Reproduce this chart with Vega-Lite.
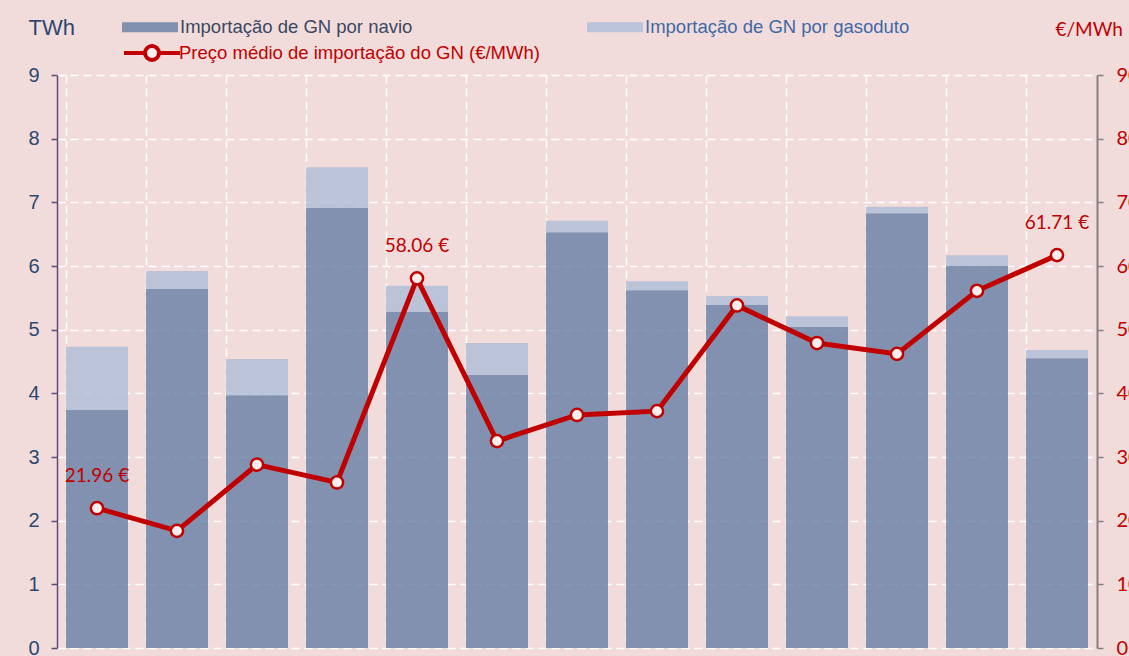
{
  "$schema": "https://vega.github.io/schema/vega-lite/v6.json",
  "width": 1040,
  "height": 573,
  "autosize": {"type": "none"},
  "padding": {"left": 57, "top": 75, "right": 32, "bottom": 8},
  "background": "#f2dcdb",
  "config": {"view": {"stroke": null}, "font": "Liberation Sans", "legend": {"padding": 0}},
  "datasets": {
    "imp": [
      {"mes": "M01", "tipo": "Importação de GN por navio", "ordem": 1, "valor": 3.74},
      {"mes": "M01", "tipo": "Importação de GN por gasoduto", "ordem": 2, "valor": 0.99},
      {"mes": "M02", "tipo": "Importação de GN por navio", "ordem": 1, "valor": 5.64},
      {"mes": "M02", "tipo": "Importação de GN por gasoduto", "ordem": 2, "valor": 0.28},
      {"mes": "M03", "tipo": "Importação de GN por navio", "ordem": 1, "valor": 3.97},
      {"mes": "M03", "tipo": "Importação de GN por gasoduto", "ordem": 2, "valor": 0.57},
      {"mes": "M04", "tipo": "Importação de GN por navio", "ordem": 1, "valor": 6.91},
      {"mes": "M04", "tipo": "Importação de GN por gasoduto", "ordem": 2, "valor": 0.64},
      {"mes": "M05", "tipo": "Importação de GN por navio", "ordem": 1, "valor": 5.28},
      {"mes": "M05", "tipo": "Importação de GN por gasoduto", "ordem": 2, "valor": 0.41},
      {"mes": "M06", "tipo": "Importação de GN por navio", "ordem": 1, "valor": 4.29},
      {"mes": "M06", "tipo": "Importação de GN por gasoduto", "ordem": 2, "valor": 0.50},
      {"mes": "M07", "tipo": "Importação de GN por navio", "ordem": 1, "valor": 6.53},
      {"mes": "M07", "tipo": "Importação de GN por gasoduto", "ordem": 2, "valor": 0.18},
      {"mes": "M08", "tipo": "Importação de GN por navio", "ordem": 1, "valor": 5.62},
      {"mes": "M08", "tipo": "Importação de GN por gasoduto", "ordem": 2, "valor": 0.14},
      {"mes": "M09", "tipo": "Importação de GN por navio", "ordem": 1, "valor": 5.39},
      {"mes": "M09", "tipo": "Importação de GN por gasoduto", "ordem": 2, "valor": 0.14},
      {"mes": "M10", "tipo": "Importação de GN por navio", "ordem": 1, "valor": 5.04},
      {"mes": "M10", "tipo": "Importação de GN por gasoduto", "ordem": 2, "valor": 0.17},
      {"mes": "M11", "tipo": "Importação de GN por navio", "ordem": 1, "valor": 6.83},
      {"mes": "M11", "tipo": "Importação de GN por gasoduto", "ordem": 2, "valor": 0.10},
      {"mes": "M12", "tipo": "Importação de GN por navio", "ordem": 1, "valor": 6.00},
      {"mes": "M12", "tipo": "Importação de GN por gasoduto", "ordem": 2, "valor": 0.17},
      {"mes": "M13", "tipo": "Importação de GN por navio", "ordem": 1, "valor": 4.55},
      {"mes": "M13", "tipo": "Importação de GN por gasoduto", "ordem": 2, "valor": 0.13}
    ],
    "preco": [
      {"mes": "M01", "preco": 21.96, "rotulo": "21.96 €"},
      {"mes": "M02", "preco": 18.4, "rotulo": ""},
      {"mes": "M03", "preco": 28.8, "rotulo": ""},
      {"mes": "M04", "preco": 26.0, "rotulo": ""},
      {"mes": "M05", "preco": 58.06, "rotulo": "58.06 €"},
      {"mes": "M06", "preco": 32.5, "rotulo": ""},
      {"mes": "M07", "preco": 36.6, "rotulo": ""},
      {"mes": "M08", "preco": 37.2, "rotulo": ""},
      {"mes": "M09", "preco": 53.8, "rotulo": ""},
      {"mes": "M10", "preco": 47.9, "rotulo": ""},
      {"mes": "M11", "preco": 46.2, "rotulo": ""},
      {"mes": "M12", "preco": 56.1, "rotulo": ""},
      {"mes": "M13", "preco": 61.71, "rotulo": "61.71 €"}
    ]
  },
  "layer": [
    {
      "data": {"name": "imp"},
      "mark": {"type": "bar", "opacity": 0.8},
      "encoding": {
        "x": {
          "field": "mes", "type": "ordinal", "sort": null,
          "scale": {"paddingInner": 0.225, "paddingOuter": 0.1125},
          "axis": {"bandPosition": 0, "grid": true, "gridColor": "#ffffff", "gridDash": [8, 5], "gridWidth": 1.5, "labels": false, "ticks": false, "domain": false, "title": null}
        },
        "y": {
          "field": "valor", "type": "quantitative", "stack": "zero",
          "scale": {"domain": [0, 9], "nice": false},
          "axis": {
            "orient": "left", "values": [0, 1, 2, 3, 4, 5, 6, 7, 8, 9],
            "labelFontSize": 20, "labelColor": "#2c4770", "labelPadding": 12,
            "domainColor": "#604a7b", "domainWidth": 1.5, "tickColor": "#604a7b", "tickSize": 6, "tickWidth": 1.5,
            "grid": true, "gridColor": "#ffffff", "gridDash": [8, 5], "gridWidth": 1.5,
            "title": "TWh", "titleAngle": 0, "titleAlign": "left", "titleBaseline": "middle",
            "titleX": -29, "titleY": -48, "titleFontSize": 22, "titleFontWeight": "normal", "titleColor": "#2c4770"
          }
        },
        "color": {
          "field": "tipo", "type": "nominal",
          "scale": {"domain": ["Importação de GN por navio", "Importação de GN por gasoduto"], "range": ["#677ea5", "#abbdd7"]},
          "legend": {
            "orient": "none", "legendX": 65, "legendY": -76, "direction": "horizontal", "columns": 2, "columnPadding": 174,
            "symbolType": "M-1,-0.18H1V0.18H-1Z", "symbolSize": 3136, "symbolStrokeWidth": 0, "symbolOpacity": 0.8,
            "labelFontSize": 18.5, "labelOffset": 2, "labelLimit": 600, "title": null,
            "encode": {"labels": {"update": {"fill": {"signal": "datum.label === 'Importação de GN por navio' ? '#3a4864' : '#3f69a5'"}}}}
          }
        },
        "order": {"field": "ordem", "type": "quantitative"}
      }
    },
    {
      "data": {"name": "preco"},
      "layer": [
        {
          "mark": {"type": "line", "strokeWidth": 5},
          "encoding": {
            "x": {"field": "mes", "type": "ordinal", "sort": null},
            "y": {
              "field": "preco", "type": "quantitative",
              "scale": {"domain": [0, 90], "nice": false},
              "axis": {
                "orient": "right", "values": [0, 10, 20, 30, 40, 50, 60, 70, 80, 90],
                "labelFont": "Lato", "labelFontSize": 20, "labelColor": "#c00000", "labelPadding": 13,
                "domainColor": "#808080", "domainWidth": 2, "tickColor": "#808080", "tickSize": 6, "tickWidth": 1.5,
                "grid": false,
                "title": "€/MWh", "titleFont": "Lato", "titleAngle": 0, "titleAlign": "left", "titleBaseline": "middle",
                "titleX": -42, "titleY": -46, "titleFontSize": 19, "titleFontWeight": "normal", "titleColor": "#c00000"
              }
            },
            "stroke": {
              "datum": "Preço médio de importação do GN (€/MWh)", "type": "nominal",
              "scale": {"range": ["#c00000"]},
              "legend": {
                "orient": "none", "legendX": 65, "legendY": -52,
                "symbolType": "M-1,0H-0.25A0.25,0.25 0 1,1 0.25,0A0.25,0.25 0 1,1 -0.25,0M0.25,0H1",
                "symbolSize": 3136, "symbolStrokeWidth": 4, "symbolFillColor": "#fbeeee",
                "labelColor": "#c00000", "labelFontSize": 18.5, "labelOffset": -3, "labelLimit": 600, "title": null
              }
            }
          }
        },
        {
          "mark": {"type": "point", "shape": "circle", "filled": true, "size": 150, "fill": "#fbeeee", "stroke": "#c00000", "strokeWidth": 2.5, "opacity": 1},
          "encoding": {
            "x": {"field": "mes", "type": "ordinal", "sort": null},
            "y": {"field": "preco", "type": "quantitative"}
          }
        },
        {
          "transform": [{"filter": "datum.rotulo != ''"}],
          "mark": {"type": "text", "font": "Lato", "fontSize": 19, "color": "#c00000", "dy": -32},
          "encoding": {
            "x": {"field": "mes", "type": "ordinal", "sort": null},
            "y": {"field": "preco", "type": "quantitative"},
            "text": {"field": "rotulo"}
          }
        }
      ]
    }
  ],
  "resolve": {"scale": {"y": "independent"}}
}
